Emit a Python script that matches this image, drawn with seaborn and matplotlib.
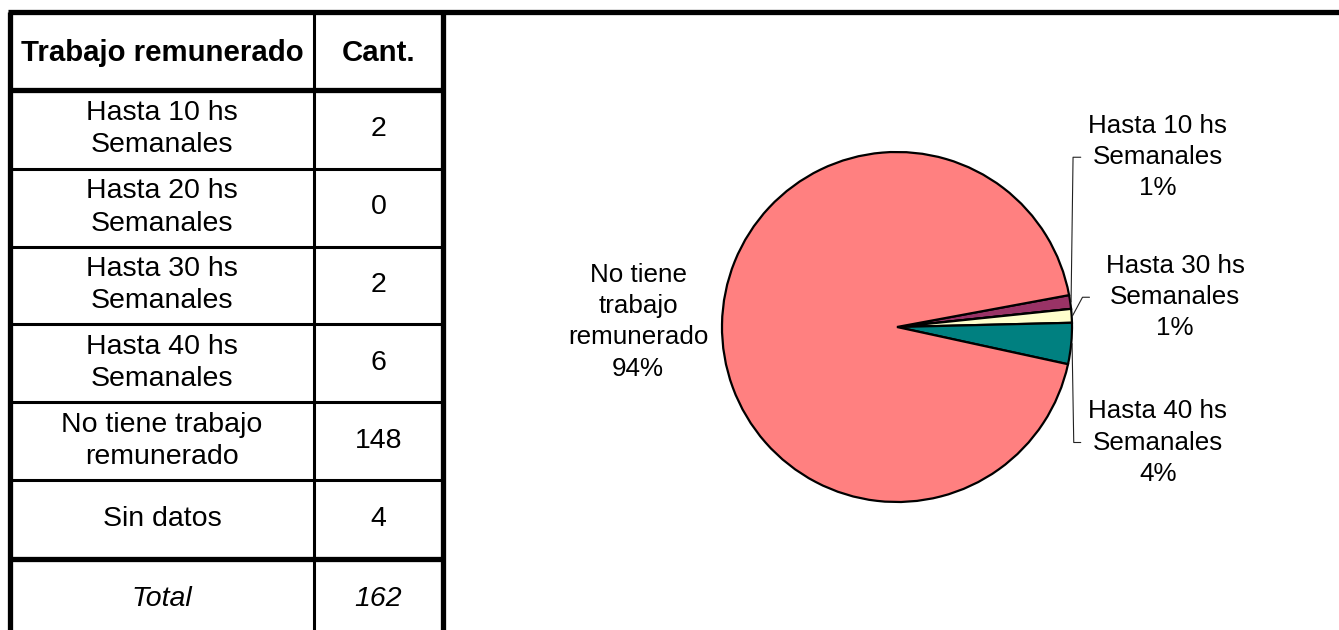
import numpy as np
import seaborn as sns
import matplotlib.pyplot as plt

# datos
categorias = ["Hasta 10 hs\nSemanales", "Hasta 20 hs\nSemanales", "Hasta 30 hs\nSemanales",
              "Hasta 40 hs\nSemanales", "No tiene trabajo\nremunerado", "Sin datos"]
cantidades = [2, 0, 2, 6, 148, 4]
total = 162
etiquetas_torta = ["Hasta 10 hs\nSemanales", "Hasta 20 hs\nSemanales", "Hasta 30 hs\nSemanales",
                   "Hasta 40 hs\nSemanales", "No tiene\ntrabajo\nremunerado"]
colores_torta = ["#993366", "#9999FF", "#FFFFCC", "#008080", "#FF8080"]

sns.set_theme(style="white")
plt.rcParams['font.family'] = ['Liberation Sans', 'DejaVu Sans']
plt.rcParams['text.color'] = 'black'

W, H = 1339, 630
fig = plt.figure(figsize=(W / 100, H / 100), dpi=100)
fig.patch.set_facecolor("white")

# ---- tabla (coordenadas en pixeles) ----
tab = fig.add_axes([0, 0, 1, 1])
tab.set_xlim(0, W)
tab.set_ylim(H, 0)
tab.axis("off")

x_izq, x_div, x_der = 10, 314, 443
filas = [12, 89.5, 168.5, 246.5, 323.5, 402, 479.5, 559, 640]
grueso, fino = 3.8, 2.2

fs_tabla = 20.5
tab.text((x_izq + x_div) / 2, (filas[0] + filas[1]) / 2 + 2, "Trabajo remunerado",
         ha="center", va="center", fontsize=21.2, fontweight="bold")
tab.text((x_div + x_der) / 2, (filas[0] + filas[1]) / 2 + 2, "Cant.",
         ha="center", va="center", fontsize=21.2, fontweight="bold")
for i, (cat, val) in enumerate(zip(categorias, cantidades)):
    yc = (filas[i + 1] + filas[i + 2]) / 2
    tab.text((x_izq + x_div) / 2, yc, cat, ha="center", va="center",
             fontsize=fs_tabla, linespacing=1.32)
    tab.text((x_div + x_der) / 2, yc, str(val), ha="center", va="center", fontsize=fs_tabla)
yc = (filas[7] + 630) / 2 + 4
tab.text((x_izq + x_div) / 2, yc, "Total", ha="center", va="center",
         fontsize=fs_tabla, style="italic")
tab.text((x_div + x_der) / 2, yc, str(total), ha="center", va="center",
         fontsize=fs_tabla, style="italic")

# lineas de la tabla
tab.plot([x_izq - 2, W], [filas[0], filas[0]], color="black", lw=grueso, solid_capstyle="butt")
tab.plot([x_izq, x_der], [filas[1], filas[1]], color="black", lw=grueso, solid_capstyle="butt")
tab.plot([x_izq, x_der], [filas[7], filas[7]], color="black", lw=grueso, solid_capstyle="butt")
for y in filas[2:7]:
    tab.plot([x_izq, x_der], [y, y], color="black", lw=fino, solid_capstyle="butt")
tab.plot([x_izq, x_izq], [filas[0], H], color="black", lw=grueso, solid_capstyle="butt")
tab.plot([x_der, x_der], [filas[0], H], color="black", lw=grueso, solid_capstyle="butt")
tab.plot([x_div, x_div], [filas[0], H], color="black", lw=fino, solid_capstyle="butt")

# ---- torta ----
cx, cy, r = 897, 327, 175
ax = fig.add_axes([(cx - r) / W, (H - cy - r) / H, 2 * r / W, 2 * r / H])
valores = cantidades[:5]
wedges, _ = ax.pie(valores, colors=colores_torta, startangle=10.5, counterclock=False,
                   radius=1, wedgeprops=dict(edgecolor="black", linewidth=1.6, clip_on=False))
ax.set_xlim(-1.0, 1.0)
ax.set_ylim(-1.0, 1.0)
ax.set_aspect("equal")
ax.axis("off")

suma = sum(valores)
fs_torta = 18.7
pos = {0: (1.49, 0.97), 2: (1.59, 0.17), 3: (1.49, -0.66), 4: (-1.48, 0.03)}
for i, (x, y) in pos.items():
    pct = f"{round(100 * valores[i] / suma):d}%"
    ax.text(x, y, etiquetas_torta[i] + "\n" + pct, ha="center", va="center",
            fontsize=fs_torta, linespacing=1.38)

# lineas guia
def punto_medio(w):
    a = np.deg2rad((w.theta1 + w.theta2) / 2)
    return np.cos(a), np.sin(a)

lc = dict(color="#222222", lw=0.8, clip_on=False)
px, py = punto_medio(wedges[0])
ax.plot([1.05, 1.006, px * 1.005], [0.97, 0.97, py], **lc)
px, py = punto_medio(wedges[2])
ax.plot([1.10, 1.06, px * 1.005], [0.17, 0.17, py], **lc)
px, py = punto_medio(wedges[3])
ax.plot([1.05, 1.01, px * 1.005], [-0.66, -0.66, py], **lc)

fig.savefig("out.png", dpi=100, facecolor="white")
